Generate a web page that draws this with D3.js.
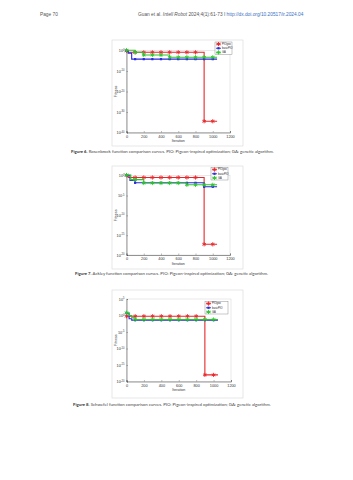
<!DOCTYPE html>
<html>
<head>
<meta charset="utf-8">
<script src="https://cdn.jsdelivr.net/npm/d3@7"></script>
<style>
  body { margin: 0; background: #fff; }
  svg { display: block; }
  text { font-family: 'Liberation Sans', Arial, sans-serif; }
  .caption, .header { font-family: Lato, 'Open Sans', sans-serif; }
</style>
</head>
<body>
<script>
// legend + markers shared by all three figures
const seriesNames = ['PIOgeo', 'basicPIO', 'GA']
const seriesColors = ['#e8262a', '#2a2ad6', '#2fc42f']
const markerIterations = [0, 100, 200, 300, 400, 500, 600, 700, 800, 900, 1000]
const iterationTicks = [0, 200, 400, 600, 800, 1000, 1200]

// step breakpoints [iteration, fitness]
const rosenbrockPIOgeo = [[0, 0.6], [20, 0.13], [900, 3e-35], [1050, 3e-35]]
const rosenbrockBasic = [[0, 1], [20, 0.05], [60, 6e-5], [1050, 6e-5]]
const rosenbrockGA = [[0, 1.3], [100, 0.13], [200, 6e-3], [500, 5e-4], [1050, 5e-4]]
const rosenbrockExponents = [0, -10, -20, -30, -40]

const ackleyPIOgeo = [[0, 1.3], [20, 0.35], [900, 5e-18], [1050, 5e-18]]
const ackleyBasic = [[0, 1.2], [40, 0.06], [100, 0.016], [900, 1.6e-3], [1050, 1.6e-3]]
const ackleyGA = [[0, 1.5], [50, 0.1], [200, 0.014], [700, 5e-3], [1050, 5e-3]]
const ackleyExponents = [0, -5, -10, -15, -20]

const schwefelPIOgeo = [[0, 0.6], [900, 1e-18], [1050, 1e-18]]
const schwefelBasic = [[0, 5], [30, 0.1], [60, 0.04], [1050, 0.04]]
const schwefelGA = [[0, 7], [30, 1], [60, 0.2], [100, 0.06], [1050, 0.06]]
const schwefelExponents = [5, 0, -5, -10, -15, -20]

const captions = [
  ['Figure 6.', ' Rosenbrock function comparison curves. PIO: Pigeon-inspired optimization; GA: genetic algorithm.'],
  ['Figure 7.', ' Ackley function comparison curves. PIO: Pigeon-inspired optimization; GA: genetic algorithm.'],
  ['Figure 8.', ' Schwefel function comparison curves. PIO: Pigeon-inspired optimization; GA: genetic algorithm.'],
]

const svg = d3.select('body').append('svg')
  .attr('width', 353)
  .attr('height', 480)

svg.append('rect').attr('width', 353).attr('height', 480).attr('fill', '#fff')

// page header
const header = svg.append('g').attr('class', 'header').style('font-size', '4.8px').attr('fill', '#555')
header.append('text').attr('x', 40).attr('y', 16).text('Page 70')
const hdr = header.append('text').attr('x', 138).attr('y', 16)
hdr.append('tspan').text('Guan et al. ')
hdr.append('tspan').attr('font-style', 'italic').text('Intell Robot')
hdr.append('tspan').text(' 2024;4(1):61-73   I   ')
hdr.append('tspan').attr('fill', '#3a6fc4').text('http://dx.doi.org/10.20517/ir.2024.04')

class ConvergenceChart {
  constructor (g) {
    this.g = g
    this.series = []
    this.frame = {x: 112, y: 40, width: 131, height: 106}
    this.plot = {left: 126.5, right: 230, top: 50.5, bottom: 132.5}
    this.exponents = []
    this.legendBox = {x: 215, y: 42, width: 17, height: 12.5}
  }

  setSeries (series) {
    this.series = series
    return this
  }

  setExponents (exps) {
    this.exponents = exps
    return this
  }

  setPlot (plot) {
    this.plot = plot
    return this
  }

  setFrame (frame) {
    this.frame = frame
    return this
  }

  setLegend (box) {
    this.legendBox = box
    return this
  }

  defineScales () {
    const top = this.exponents[0]
    const bottom = this.exponents[this.exponents.length - 1]
    this.xScale = d3.scaleLinear().domain([0, 1200]).range([this.plot.left, this.plot.right])
    this.yScale = d3.scaleLog().domain([Math.pow(10, top), Math.pow(10, bottom)])
      .range([this.plot.top, this.plot.bottom])
    return this
  }

  drawFrame () {
    const f = this.frame
    this.g.append('rect')
      .attr('x', f.x).attr('y', f.y)
      .attr('width', f.width).attr('height', f.height)
      .attr('fill', '#fff')
      .attr('stroke', '#d8d8d8')
      .attr('stroke-width', 0.6)
    const p = this.plot
    this.g.append('rect')
      .attr('x', p.left).attr('y', p.top)
      .attr('width', p.right - p.left).attr('height', p.bottom - p.top)
      .attr('fill', '#fff')
      .attr('stroke', '#c8c8c8')
      .attr('stroke-width', 0.4)
    return this
  }

  drawAxis () {
    const xAxis = d3.axisBottom(this.xScale)
      .tickValues(iterationTicks)
      .tickSize(-1.5)
      .tickPadding(2.5)
      .tickFormat(d3.format('d'))
    this.g.append('g')
      .attr('transform', `translate(0,${this.plot.bottom})`)
      .call(xAxis)
      .call(g => g.select('.domain').attr('stroke', '#333').attr('stroke-width', 0.5))
      .call(g => g.selectAll('.tick line').attr('stroke', '#555').attr('stroke-width', 0.4))
      .call(g => g.selectAll('.tick text').attr('font-size', 3.8).attr('fill', '#333').attr('font-family', null))

    const yAxis = d3.axisLeft(this.yScale)
      .tickValues(this.exponents.map(e => Math.pow(10, e)))
      .tickSize(-1.5)
      .tickPadding(2)
      .tickFormat(() => '')
    const exps = this.exponents
    this.g.append('g')
      .attr('transform', `translate(${this.plot.left},0)`)
      .call(yAxis)
      .call(g => g.select('.domain').attr('stroke', '#333').attr('stroke-width', 0.5))
      .call(g => g.selectAll('.tick line').attr('stroke', '#555').attr('stroke-width', 0.4))
      .call(g => g.selectAll('.tick text').each(function (d, i) {
        const t = d3.select(this).attr('font-size', 3.8).attr('fill', '#333').attr('font-family', null)
        t.append('tspan').text('10')
        t.append('tspan').attr('dy', -1.6).attr('font-size', 2.6).text(exps[i])
      }))

    this.g.append('text')
      .attr('x', (this.plot.left + this.plot.right) / 2)
      .attr('y', this.plot.bottom + 9.5)
      .attr('text-anchor', 'middle')
      .attr('font-size', 3.6)
      .attr('fill', '#333')
      .text('Iteration')

    this.g.append('text')
      .attr('transform', `translate(${this.plot.left - 9.5},${(this.plot.top + this.plot.bottom) / 2}) rotate(-90)`)
      .attr('text-anchor', 'middle')
      .attr('font-size', 3.6)
      .attr('fill', '#333')
      .text('Fitness')
    return this
  }

  valueAt (points, it) {
    let v = points[0][1]
    points.forEach(p => { if (p[0] <= it) v = p[1] })
    return v
  }

  drawMarker (sel, i) {
    const color = seriesColors[i]
    if (i === 1) {
      sel.append('rect').attr('x', -1.1).attr('y', -1.1).attr('width', 2.2).attr('height', 2.2)
        .attr('fill', color)
    } else {
      sel.append('path').attr('d', d3.symbol(d3.symbolAsterisk, 12)())
        .attr('fill', 'none').attr('stroke', color).attr('stroke-width', 0.9)
    }
  }

  drawMarks () {
    const line = d3.line()
      .x(d => this.xScale(d[0]))
      .y(d => this.yScale(d[1]))
      .curve(d3.curveStepAfter)

    this.series.forEach((pts, i) => {
      const color = seriesColors[i]
      this.g.append('path')
        .datum(pts)
        .attr('d', line)
        .attr('fill', 'none')
        .attr('stroke', color)
        .attr('stroke-width', 1.1)

      const last = pts[pts.length - 1][0]
      markerIterations.filter(it => it <= last).forEach(it => {
        const m = this.g.append('g')
          .attr('transform', `translate(${this.xScale(it)},${this.yScale(this.valueAt(pts, it))})`)
        this.drawMarker(m, i)
      })
    })
    return this
  }

  drawLegend () {
    const b = this.legendBox
    const lg = this.g.append('g')
    lg.append('rect')
      .attr('x', b.x).attr('y', b.y)
      .attr('width', b.width).attr('height', b.height)
      .attr('fill', '#fff')
      .attr('stroke', '#777')
      .attr('stroke-width', 0.4)
    const step = b.height / 3
    seriesNames.forEach((name, i) => {
      const cy = b.y + step * (i + 0.5)
      lg.append('line')
        .attr('x1', b.x + 1).attr('x2', b.x + 6)
        .attr('y1', cy).attr('y2', cy)
        .attr('stroke', seriesColors[i]).attr('stroke-width', 0.9)
      const m = lg.append('g').attr('transform', `translate(${b.x + 3.5},${cy})`)
      this.drawMarker(m, i)
      lg.append('text')
        .attr('x', b.x + 7).attr('y', cy + 0.9)
        .attr('font-size', 2.6)
        .attr('fill', '#222')
        .text(name)
    })
    return this
  }

  draw () {
    this.defineScales().drawFrame().drawAxis().drawMarks().drawLegend()
    return this
  }
}

new ConvergenceChart(svg.append('g'))
  .setSeries([rosenbrockPIOgeo, rosenbrockBasic, rosenbrockGA])
  .setExponents(rosenbrockExponents)
  .setFrame({x: 112, y: 40, width: 131, height: 106})
  .setPlot({left: 126.5, right: 230, top: 50.5, bottom: 132.5})
  .setLegend({x: 215, y: 42, width: 17, height: 12.5})
  .draw()

new ConvergenceChart(svg.append('g'))
  .setSeries([ackleyPIOgeo, ackleyBasic, ackleyGA])
  .setExponents(ackleyExponents)
  .setFrame({x: 112, y: 166, width: 131, height: 103})
  .setPlot({left: 126.5, right: 230, top: 175.7, bottom: 255})
  .setLegend({x: 211, y: 167.5, width: 17, height: 12.5})
  .draw()

new ConvergenceChart(svg.append('g'))
  .setSeries([schwefelPIOgeo, schwefelBasic, schwefelGA])
  .setExponents(schwefelExponents)
  .setFrame({x: 112, y: 290, width: 131, height: 108})
  .setPlot({left: 126.5, right: 231, top: 299, bottom: 381.5})
  .setLegend({x: 205, y: 301.5, width: 23, height: 12.5})
  .draw()

// captions
const captionY = [153, 275, 406]
const captionX = [71, 75, 73]
captions.forEach((c, i) => {
  const t = svg.append('text')
    .attr('class', 'caption')
    .attr('x', captionX[i])
    .attr('y', captionY[i])
    .attr('font-size', 4.3)
    .attr('fill', '#444')
  t.append('tspan').attr('font-weight', 'bold').attr('fill', '#333').text(c[0])
  t.append('tspan').text(c[1])
})
</script>
</body>
</html>
